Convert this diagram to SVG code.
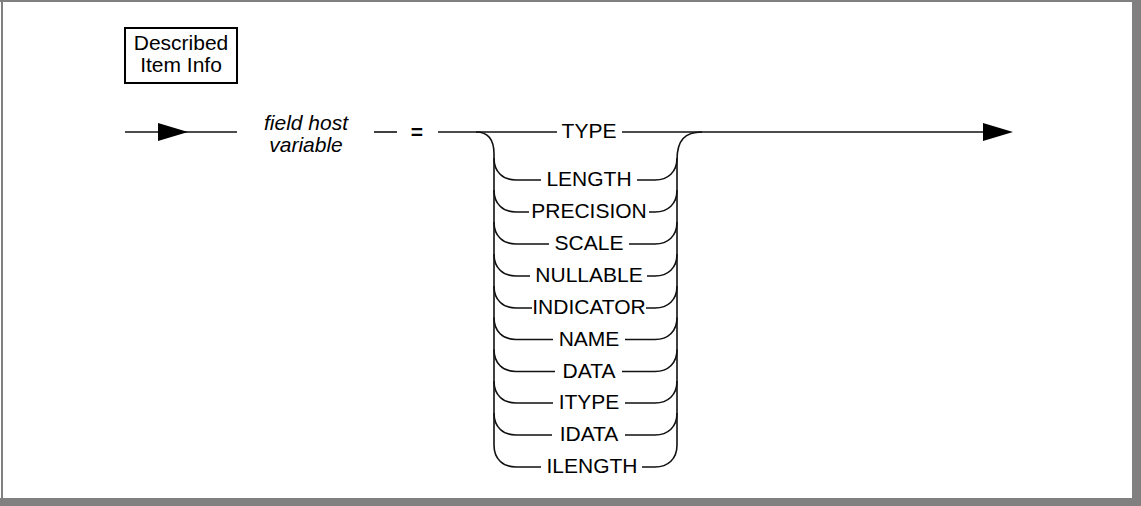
<svg xmlns="http://www.w3.org/2000/svg" width="1141" height="506" viewBox="0 0 1141 506">
<style>
.ln{fill:none;stroke:#111;stroke-width:1.6}
.t{font-family:"Liberation Sans",Arial,sans-serif;font-size:21px;fill:#000;text-anchor:middle}
.it{font-style:italic}
.fr{fill:#808080}
</style>
<rect x="0" y="0" width="1141" height="506" fill="#fff"/>
<g id="frame">
<rect class="fr" x="0" y="0" width="1141" height="2"/>
<rect class="fr" x="1" y="0" width="2" height="506"/>
<rect class="fr" x="1132" y="0" width="9" height="506"/>
<rect class="fr" x="0" y="498" width="1141" height="8"/>
</g>
<g id="title">
<rect x="125" y="28" width="112" height="55" fill="#fff" stroke="#000" stroke-width="2"/>
<text class="t" x="181" y="50">Described</text>
<text class="t" x="181" y="72">Item Info</text>
</g>
<g id="connectors">
<line class="ln" x1="125" y1="132" x2="237" y2="132" stroke-width="1.8"/>
<polygon points="158,123 188,132 158,141" fill="#000"/>
<line class="ln" x1="374" y1="132" x2="397" y2="132"/>
<line class="ln" x1="438" y1="132" x2="557" y2="132"/>
<line class="ln" x1="622" y1="132" x2="983" y2="132"/>
<polygon points="983,123 1013,132 983,141" fill="#000"/>
<path class="ln" d="M476,132 C488,132 494,139 494,154 L494,445"/>
<path class="ln" d="M677,445 L677,160 C677,140 685,132 702,132"/>
<path class="ln" d="M494,158 C494,172 503,180 516,180 L541,180 M637,180 L655,180 C668,180 677,172 677,158"/>
<path class="ln" d="M494,190 C494,204 503,212 516,212 L529,212 M649,212 L655,212 C668,212 677,204 677,190"/>
<path class="ln" d="M494,222 C494,236 503,244 516,244 L549,244 M629,244 L655,244 C668,244 677,236 677,222"/>
<path class="ln" d="M494,254 C494,268 503,276 516,276 L530,276 M647,276 L655,276 C668,276 677,268 677,254"/>
<path class="ln" d="M494,286 C494,300 503,308 516,308 L532,308 M646,308 L655,308 C668,308 677,300 677,286"/>
<path class="ln" d="M494,317.5 C494,331.5 503,339.5 516,339.5 L553,339.5 M625,339.5 L655,339.5 C668,339.5 677,331.5 677,317.5"/>
<path class="ln" d="M494,349.5 C494,363.5 503,371.5 516,371.5 L555,371.5 M622,371.5 L655,371.5 C668,371.5 677,363.5 677,349.5"/>
<path class="ln" d="M494,381 C494,395 503,403 516,403 L553,403 M625,403 L655,403 C668,403 677,395 677,381"/>
<path class="ln" d="M494,413 C494,427 503,435 516,435 L552,435 M625,435 L655,435 C668,435 677,427 677,413"/>
<path class="ln" d="M494,445 C494,459 503,467 516,467 L541,467 M642,467 L655,467 C668,467 677,459 677,445"/>
</g>
<g id="field">
<text class="t it" x="306" y="130">field host</text>
<text class="t it" x="306" y="152">variable</text>
</g>
<g id="equals"><text class="t" x="417" y="139" font-weight="bold">=</text></g>
<g id="n-type"><text class="t" x="589" y="138">TYPE</text></g>
<g id="n-length"><text class="t" x="589" y="186">LENGTH</text></g>
<g id="n-precision"><text class="t" x="589" y="218">PRECISION</text></g>
<g id="n-scale"><text class="t" x="589" y="250">SCALE</text></g>
<g id="n-nullable"><text class="t" x="589" y="282">NULLABLE</text></g>
<g id="n-indicator"><text class="t" x="589" y="314">INDICATOR</text></g>
<g id="n-name"><text class="t" x="589" y="345.5">NAME</text></g>
<g id="n-data"><text class="t" x="589" y="377.5">DATA</text></g>
<g id="n-itype"><text class="t" x="589" y="409">ITYPE</text></g>
<g id="n-idata"><text class="t" x="589" y="441">IDATA</text></g>
<g id="n-ilength"><text class="t" x="592" y="473">ILENGTH</text></g>
</svg>
